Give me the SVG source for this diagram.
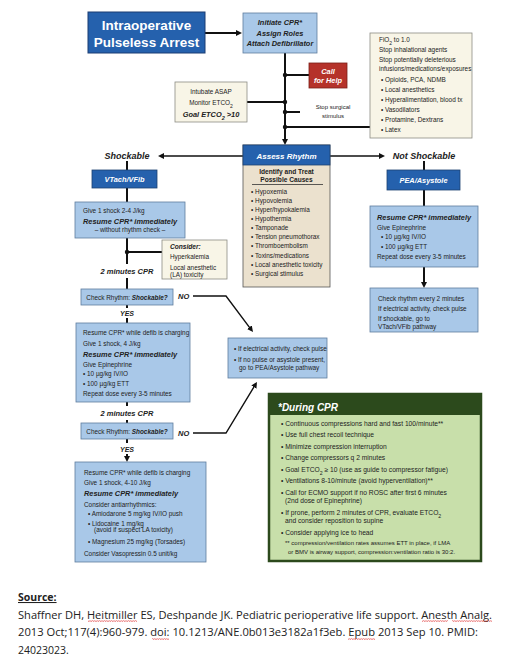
<svg xmlns="http://www.w3.org/2000/svg" width="517" height="667" viewBox="0 0 517 667">
<defs>
<marker id="ah" markerWidth="6" markerHeight="6" refX="2" refY="3" orient="auto" markerUnits="userSpaceOnUse"><path d="M0,0 L6,3 L0,6 z" fill="#111"/></marker>
<pattern id="sq" width="2.4" height="2" patternUnits="userSpaceOnUse"><path d="M0,1.7 L1.2,0.3 L2.4,1.7" fill="none" stroke="#d22" stroke-width="0.6"/></pattern>
</defs>
<style>
text{font-family:"Liberation Sans",Arial,sans-serif;fill:#222}
.s{font-size:6.4px}
.g{font-size:6.7px}
.bi{font-weight:bold;font-style:italic}
.h{font-size:7.4px;font-weight:bold;font-style:italic}
.w{fill:#fff}
.c{text-anchor:middle}
.lb{fill:#a9c8e8;stroke:#5f7d9f;stroke-width:0.8}
.db{fill:#2561ad;stroke:#1d4170;stroke-width:0.8}
.cr{fill:#f8f5e7;stroke:#8c8c84;stroke-width:0.8}
.ln{stroke:#111;stroke-width:2;fill:none}
.ln2{stroke:#111;stroke-width:1.4;fill:none}
.src{font-family:"Open Sans","Liberation Sans",sans-serif;font-size:10.5px;fill:#222}
</style>

<g id="connectors">
<path class="ln" d="M205,33 H238" marker-end="url(#ah)"/>
<path class="ln" d="M285,53 V141" marker-end="url(#ah)"/>
<path class="ln" d="M285,75 H309"/>
<path class="ln" d="M247,102 H285"/>
<path class="ln" d="M285,112 H300"/>
<path class="ln" d="M285,127 H370"/>
<circle cx="285" cy="75" r="2.2" fill="#111"/>
<circle cx="285" cy="102" r="2.2" fill="#111"/>
<circle cx="285" cy="112" r="2.2" fill="#111"/>
<circle cx="285" cy="127" r="2.2" fill="#111"/>
<path class="ln2" d="M243,156 H162" marker-end="url(#ah)"/>
<path class="ln2" d="M330,156 H381" marker-end="url(#ah)"/>
<path class="ln" d="M127,161 V170"/>
<path class="ln" d="M127,188 V202"/>
<path class="ln" d="M127,238 V264"/>
<path class="ln" d="M127,252 H162"/>
<circle cx="127" cy="252" r="2.2" fill="#111"/>
<path class="ln" d="M127,278 V289"/>
<path class="ln" d="M127,305 V308"/>
<path class="ln" d="M127,318 V323"/>
<path class="ln" d="M127,402 V406"/>
<path class="ln" d="M127,420 V423"/>
<path class="ln" d="M127,439 V443"/>
<path class="ln" d="M127,454 V458" marker-end="url(#ah)"/>
<path class="ln" d="M424,161 V170"/>
<path class="ln" d="M424,190 V206"/>
<path class="ln" d="M424,267 V284" marker-end="url(#ah)"/>
<path class="ln2" d="M193,296 H226 L250.6,328.8" marker-end="url(#ah)"/>
<path class="ln2" d="M193,433 H226 L254.9,385.4" marker-end="url(#ah)"/>
</g>

<g id="title">
<rect x="88" y="12" width="117" height="41" fill="#2561ad" stroke="#1b3d73" stroke-width="1"/>
<text x="146.5" y="30" class="c w" font-size="13.5" font-weight="bold">Intraoperative</text>
<text x="146.5" y="46.5" class="c w" font-size="13.5" font-weight="bold">Pulseless Arrest</text>
</g>

<g id="initiate">
<rect x="243" y="13" width="74" height="40" class="lb"/>
<text x="280" y="24.6" class="c h" font-size="7.3">Initiate CPR*</text>
<text x="280" y="35.6" class="c h" font-size="7.3">Assign Roles</text>
<text x="280" y="45.6" class="c h" font-size="7.3">Attach Defibrillator</text>
</g>

<g id="callhelp">
<rect x="309" y="63" width="38" height="25" fill="#b5322a" stroke="#7a1e18" stroke-width="0.8"/>
<text x="328" y="74" class="c h w">Call</text>
<text x="328" y="83" class="c h w">for Help</text>
</g>

<g id="intubate">
<rect x="175" y="82" width="72" height="40" class="cr"/>
<text x="211" y="93.5" class="c s">Intubate ASAP</text>
<text x="211" y="104.5" class="c s">Monitor ETCO<tspan baseline-shift="sub" font-size="5">2</tspan></text>
<text x="211" y="116.5" class="c h">Goal ETCO<tspan baseline-shift="sub" font-size="5.5">2</tspan> &gt;10</text>
</g>

<g id="stopsurgical">
<text x="333" y="109" class="c" font-size="6">Stop surgical</text>
<text x="333" y="117.5" class="c" font-size="6">stimulus</text>
</g>

<g id="fio2">
<rect x="370" y="33" width="102" height="105" class="cr"/>
<text x="379" y="42.3" class="s">FiO<tspan baseline-shift="sub" font-size="5">2</tspan> to 1.0</text>
<text x="379" y="51.5" class="s">Stop inhalational agents</text>
<text x="379" y="62" class="s">Stop potentially deleterious</text>
<text x="379" y="70.5" class="s">infusions/medications/exposures</text>
<text x="381" y="82" class="s">• Opioids, PCA, NDMB</text>
<text x="381" y="92" class="s">• Local anesthetics</text>
<text x="381" y="102" class="s">• Hyperalimentation, blood tx</text>
<text x="381" y="112" class="s">• Vasodilators</text>
<text x="381" y="121.5" class="s">• Protamine, Dextrans</text>
<text x="381" y="131.5" class="s">• Latex</text>
</g>

<g id="assess">
<rect x="243" y="145" width="87" height="142" fill="#ebe1ce" stroke="#555" stroke-width="0.8"/>
<rect x="243" y="145" width="87" height="20" class="db"/>
<text x="286.5" y="158.7" class="c bi w" font-size="8">Assess Rhythm</text>
<text x="286.5" y="174.3" class="c" font-size="6.6" font-weight="bold">Identify and Treat</text>
<text x="286.5" y="181.5" class="c" font-size="6.6" font-weight="bold">Possible Causes</text>
<line x1="252" y1="184.5" x2="323" y2="184.5" stroke="#333" stroke-width="0.8"/>
<text x="251" y="194" class="s">• Hypoxemia</text>
<text x="251" y="203.1" class="s">• Hypovolemia</text>
<text x="251" y="212.1" class="s">• Hyper/hypokalemia</text>
<text x="251" y="221.2" class="s">• Hypothermia</text>
<text x="251" y="230.3" class="s">• Tamponade</text>
<text x="251" y="239.4" class="s">• Tension pneumothorax</text>
<text x="251" y="248.4" class="s">• Thromboembolism</text>
<text x="251" y="257.5" class="s">• Toxins/medications</text>
<text x="251" y="266.6" class="s">• Local anesthetic toxicity</text>
<text x="251" y="275.6" class="s">• Surgical stimulus</text>
</g>

<g id="shockable">
<text x="127" y="159.3" class="c bi" font-size="9">Shockable</text>
</g>
<g id="notshockable">
<text x="424" y="159.3" class="c bi" font-size="9">Not Shockable</text>
</g>

<g id="vtach">
<rect x="92" y="170" width="65" height="18" class="db"/>
<text x="124.5" y="181.8" class="c h w" font-size="7.6">VTach/VFib</text>
</g>

<g id="shock1">
<rect x="75" y="202" width="110" height="36" class="lb"/>
<text x="83" y="213" class="s">Give 1 shock 2-4 J/kg</text>
<text x="83" y="223.5" class="h">Resume CPR* immediately</text>
<text x="130" y="231.8" class="c s">– without rhythm check –</text>
</g>

<g id="consider">
<rect x="162" y="240" width="65" height="39" class="cr"/>
<text x="170" y="249" class="bi" font-size="6.6">Consider:</text>
<text x="170" y="259.3" class="s">Hyperkalemia</text>
<text x="170" y="270" class="s">Local anesthetic</text>
<text x="170" y="276.8" class="s">(LA) toxicity</text>
</g>

<g id="cpr1"><text x="127" y="273.6" class="c bi" font-size="7.5">2 minutes CPR</text></g>

<g id="check1">
<rect x="81" y="289" width="92" height="16" class="lb"/>
<text x="127" y="299.5" class="c s">Check Rhythm: <tspan class="bi">Shockable?</tspan></text>
<text x="178" y="299.3" class="bi" font-size="7.5">NO</text>
</g>
<g id="yes1"><text x="127" y="315.8" class="c bi" font-size="7">YES</text></g>

<g id="shock2">
<rect x="76" y="323" width="114" height="79" class="lb"/>
<text x="83" y="335.3" class="s">Resume CPR* while defib is charging</text>
<text x="83" y="345.5" class="s">Give 1 shock, 4 J/kg</text>
<text x="83" y="356.6" class="h">Resume CPR* immediately</text>
<text x="83" y="366.5" class="s">Give Epinephrine</text>
<text x="83" y="375.6" class="s">• 10 µg/kg IV/IO</text>
<text x="83" y="385.6" class="s">• 100 µg/kg ETT</text>
<text x="83" y="395.6" class="s">Repeat dose every 3-5 minutes</text>
</g>

<g id="cpr2"><text x="127" y="415.6" class="c bi" font-size="7.5">2 minutes CPR</text></g>

<g id="check2">
<rect x="81" y="423" width="92" height="16" class="lb"/>
<text x="127" y="433.5" class="c s">Check Rhythm: <tspan class="bi">Shockable?</tspan></text>
<text x="178" y="435.5" class="bi" font-size="7.5">NO</text>
</g>
<g id="yes2"><text x="127" y="451.8" class="c bi" font-size="7">YES</text></g>

<g id="shock3">
<rect x="75" y="462" width="131" height="100" class="lb"/>
<text x="84" y="474.5" class="s">Resume CPR* while defib is charging</text>
<text x="84" y="484.6" class="s">Give 1 shock, 4-10 J/kg</text>
<text x="84" y="495.6" class="h">Resume CPR* immediately</text>
<text x="84" y="506.5" class="s">Consider antiarrhythmics:</text>
<text x="88" y="515.6" class="s">• Amiodarone 5 mg/kg IV/IO push</text>
<text x="88" y="525.6" class="s">• Lidocaine 1 mg/kg</text>
<text x="94" y="532.4" class="s">(avoid if suspect LA toxicity)</text>
<text x="88" y="544" class="s">• Magnesium 25 mg/kg (Torsades)</text>
<text x="84" y="555.6" class="s">Consider Vasopressin 0.5 unit/kg</text>
</g>

<g id="pea">
<rect x="387" y="170" width="73" height="20" class="db"/>
<text x="423.5" y="182.8" class="c h w" font-size="7.6">PEA/Asystole</text>
</g>

<g id="pea1">
<rect x="370" y="206" width="108" height="61" class="lb"/>
<text x="377" y="219.5" class="h">Resume CPR* immediately</text>
<text x="377" y="229.5" class="s">Give Epinephrine</text>
<text x="381" y="239" class="s">• 10 µg/kg IV/IO</text>
<text x="381" y="248.5" class="s">• 100 µg/kg ETT</text>
<text x="377" y="259" class="s">Repeat dose every 3-5 minutes</text>
</g>

<g id="pea2">
<rect x="370" y="288" width="108" height="44" class="lb"/>
<text x="378" y="300.5" class="s">Check rhythm every 2 minutes</text>
<text x="378" y="311" class="s">If electrical activity, check pulse</text>
<text x="378" y="321" class="s">If shockable, go to</text>
<text x="378" y="329" class="s">VTach/VFib pathway</text>
</g>

<g id="pulsecheck">
<rect x="228" y="338" width="99" height="40" class="lb"/>
<text x="234" y="350.5" class="s">• If electrical activity, check pulse</text>
<text x="234" y="362" class="s">• If no pulse or asystole present,</text>
<text x="239" y="370" class="s">go to PEA/Asystole pathway</text>
</g>

<g id="duringcpr">
<rect x="269" y="394" width="212" height="167" fill="#c8dfaa" stroke="#2c4a1c" stroke-width="2.5"/>
<rect x="269" y="394" width="212" height="21" fill="#2c4a1c"/>
<text x="278" y="410.5" class="bi w" font-size="10">*During CPR</text>
<text x="281" y="425.5" class="g">• Continuous compressions hard and fast 100/minute**</text>
<text x="281" y="436.5" class="g">• Use full chest recoil technique</text>
<text x="281" y="448.5" class="g">• Minimize compression interruption</text>
<text x="281" y="460" class="g">• Change compressors q 2 minutes</text>
<text x="281" y="472" class="g">• Goal ETCO<tspan baseline-shift="sub" font-size="5.2">2</tspan> ≥ 10 (use as guide to compressor fatigue)</text>
<text x="281" y="482.5" class="g">• Ventilations 8-10/minute (avoid hyperventilation)**</text>
<text x="281" y="495" class="g">• Call for ECMO support if no ROSC after first 6 minutes</text>
<text x="285" y="503.3" class="g">(2nd dose of Epinephrine)</text>
<text x="281" y="514.5" class="g">• If prone, perform 2 minutes of CPR, evaluate ETCO<tspan baseline-shift="sub" font-size="5.2">2</tspan></text>
<text x="285" y="523" class="g">and consider reposition to supine</text>
<text x="281" y="534.5" class="g">• Consider applying ice to head</text>
<text x="285" y="545" font-size="6">** compression/ventilation rates assumes ETT in place, if LMA</text>
<text x="288" y="554" font-size="6">or BMV is airway support, compression:ventilation ratio is 30:2.</text>
</g>

<g id="source">
<text x="18" y="601" class="src" font-weight="bold" text-decoration="underline">Source:</text>
<text x="18" y="618.5" class="src" textLength="474" lengthAdjust="spacingAndGlyphs">Shaffner DH, Heitmiller ES, Deshpande JK. Pediatric perioperative life support. Anesth Analg.</text>
<text x="18" y="636" class="src" textLength="460" lengthAdjust="spacingAndGlyphs">2013 Oct;117(4):960-979. doi: 10.1213/ANE.0b013e3182a1f3eb. Epub 2013 Sep 10. PMID:</text>
<text x="18" y="653.5" class="src">24023023.</text>
<rect x="88" y="620" width="49" height="2" fill="url(#sq)"/>
<rect x="422" y="620" width="26" height="2" fill="url(#sq)"/>
<rect x="452" y="620" width="40" height="2" fill="url(#sq)"/>
<rect x="152" y="638" width="17" height="2" fill="url(#sq)"/>
<rect x="348" y="638" width="27" height="2" fill="url(#sq)"/>
</g>
</svg>
